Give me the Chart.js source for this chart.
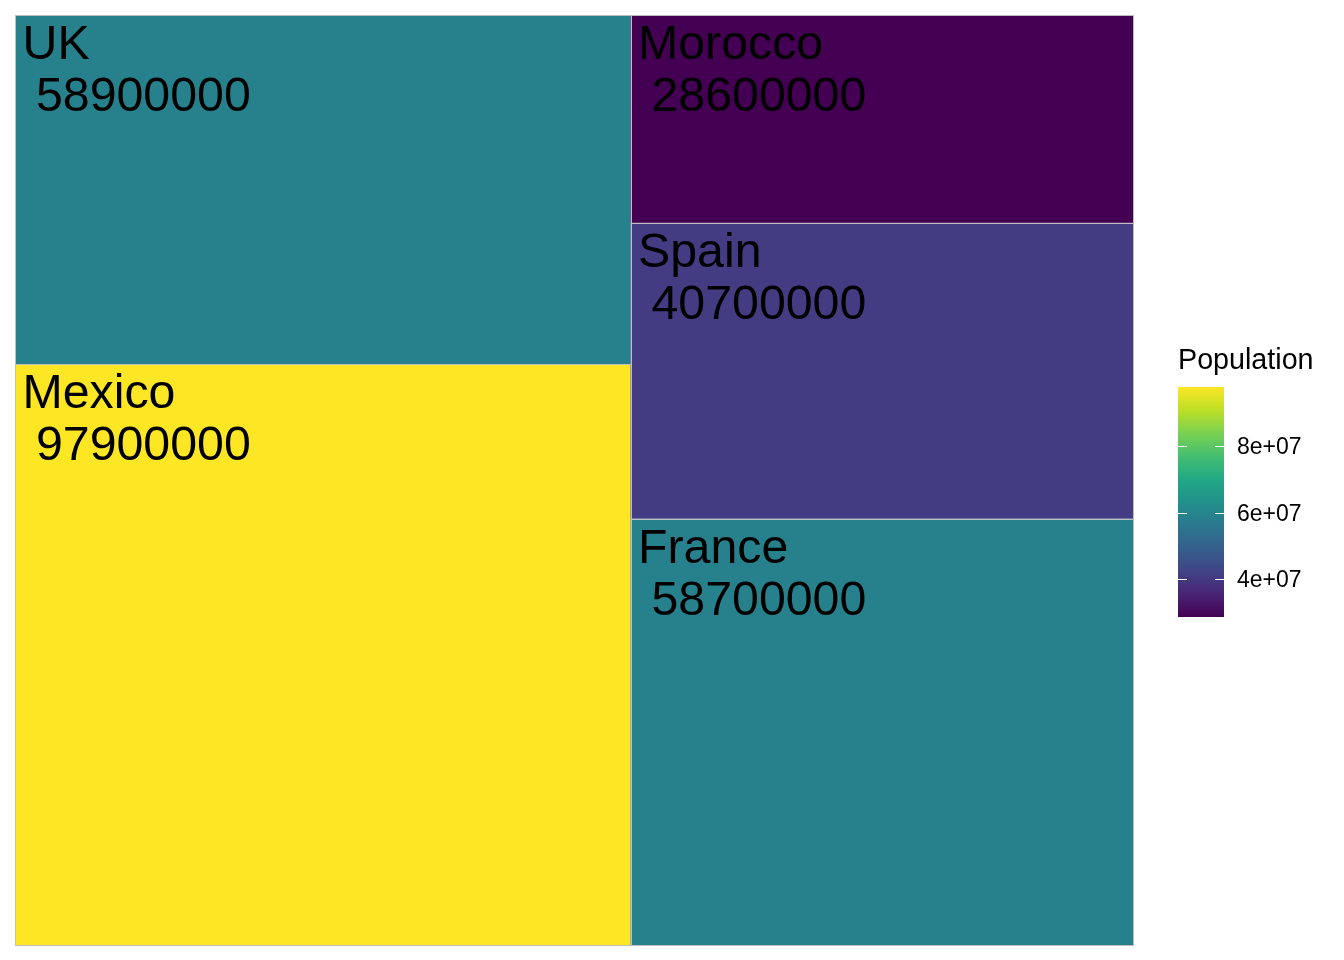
<!DOCTYPE html>
<html>
<head>
<meta charset="utf-8">
<script src="https://cdn.jsdelivr.net/npm/chart.js@4/dist/chart.umd.min.js"></script>
<style>
  html, body { margin: 0; padding: 0; background: #ffffff; }
  #wrap { width: 1344px; height: 960px; }
</style>
</head>
<body>
<div id="wrap"><canvas id="c" width="1344" height="960"></canvas></div>
<script>
// ---- data ----
const countries = ['UK', 'Mexico', 'Morocco', 'Spain', 'France'];
const population = [58900000, 97900000, 28600000, 40700000, 58700000];
const legendTicks = [40000000, 60000000, 80000000];
const legendTickLabels = ['4e+07', '6e+07', '8e+07'];
const legendTitle = 'Population';

// ---- viridis colour map ----
const viridisStops = ['#440154','#482475','#414487','#355F8D','#2A788E','#21918C','#22A884','#44BF70','#7AD151','#BDDF26','#FDE725'];
function hexToRgb(h) { return [parseInt(h.slice(1,3),16), parseInt(h.slice(3,5),16), parseInt(h.slice(5,7),16)]; }
function viridis(t) {
  t = Math.max(0, Math.min(1, t));
  const n = viridisStops.length - 1;
  const i = Math.min(n - 1, Math.floor(t * n));
  const f = t * n - i;
  const a = hexToRgb(viridisStops[i]), b = hexToRgb(viridisStops[i + 1]);
  const c = a.map((v, k) => Math.round(v + (b[k] - v) * f));
  return 'rgb(' + c.join(',') + ')';
}
const popMin = Math.min(...population), popMax = Math.max(...population);
function colorFor(v) { return viridis((v - popMin) / (popMax - popMin)); }

// ---- squarified layout (in units proportional to area), origin bottom-left ----
function worst(row, side) {
  const s = row.reduce((a, r) => a + r.area, 0);
  let w = 0;
  row.forEach(r => {
    const len = s / side;
    const other = r.area / len;
    w = Math.max(w, Math.max(len / other, other / len));
  });
  return w;
}
function squarify(W, H) {
  const total = population.reduce((a, b) => a + b, 0);
  const items = population.map((v, i) => ({ i, v, area: v / total * W * H }))
    .sort((a, b) => b.v - a.v);
  const out = [];
  let rect = { x: 0, y: 0, w: W, h: H };
  let k = 0;
  while (k < items.length) {
    const side = Math.min(rect.w, rect.h);
    let row = [items[k]];
    k++;
    while (k < items.length && worst(row.concat([items[k]]), side) <= worst(row, side)) {
      row.push(items[k]); k++;
    }
    const s = row.reduce((a, r) => a + r.area, 0);
    if (rect.w >= rect.h) {
      const thick = s / rect.h;
      let y = rect.y;
      row.forEach(r => { const hh = r.area / thick; out.push({ i: r.i, x: rect.x, y, w: thick, h: hh }); y += hh; });
      rect = { x: rect.x + thick, y: rect.y, w: rect.w - thick, h: rect.h };
    } else {
      const thick = s / rect.w;
      let x = rect.x;
      row.forEach(r => { const ww = r.area / thick; out.push({ i: r.i, x, y: rect.y, w: ww, h: thick }); x += ww; });
      rect = { x: rect.x, y: rect.y + thick, w: rect.w, h: rect.h - thick };
    }
  }
  return out.map(o => ({ i: o.i, x0: o.x / W, x1: (o.x + o.w) / W, y0: o.y / H, y1: (o.y + o.h) / H }));
}

const FONT = '"Liberation Sans", Arial, sans-serif';

const treemapPlugin = {
  id: 'treemap',
  afterDatasetsDraw(chart) {
    const ctx = chart.ctx, ca = chart.chartArea;
    const xs = chart.scales.x, ys = chart.scales.y;
    const tiles = squarify(ca.right - ca.left, ca.bottom - ca.top);
    ctx.save();
    tiles.forEach(t => {
      const l = xs.getPixelForValue(t.x0), r = xs.getPixelForValue(t.x1);
      const top = ys.getPixelForValue(t.y1), bot = ys.getPixelForValue(t.y0);
      ctx.fillStyle = colorFor(population[t.i]);
      ctx.fillRect(l, top, r - l, bot - top);
    });
    ctx.strokeStyle = '#BEBEBE';
    ctx.lineWidth = 1;
    tiles.forEach(t => {
      const l = xs.getPixelForValue(t.x0), r = xs.getPixelForValue(t.x1);
      const top = ys.getPixelForValue(t.y1), bot = ys.getPixelForValue(t.y0);
      ctx.strokeRect(Math.round(l) + 0.5, Math.round(top) + 0.5, Math.round(r) - Math.round(l), Math.round(bot) - Math.round(top));
    });
    ctx.fillStyle = '#000000';
    ctx.font = '48.3px ' + FONT;
    ctx.textBaseline = 'alphabetic';
    ctx.textAlign = 'left';
    tiles.forEach(t => {
      const l = xs.getPixelForValue(t.x0);
      const top = ys.getPixelForValue(t.y1);
      ctx.fillText(countries[t.i], l + 7.5, top + 44);
      ctx.fillText(' ' + String(population[t.i]), l + 7.5, top + 96);
    });
    ctx.restore();
  },
  afterDraw(chart) {
    const ctx = chart.ctx;
    const bx = 1178, bw = 46, bTop = 387, bBot = 617;
    const valToY = v => bBot - (v - popMin) / (popMax - popMin) * (bBot - bTop);
    ctx.save();
    ctx.fillStyle = '#000000';
    ctx.font = '28.7px ' + FONT;
    ctx.textBaseline = 'alphabetic';
    ctx.textAlign = 'left';
    ctx.fillText(legendTitle, bx, 369);
    const g = ctx.createLinearGradient(0, bBot, 0, bTop);
    for (let s = 0; s <= 40; s++) g.addColorStop(s / 40, viridis(s / 40));
    ctx.fillStyle = g;
    ctx.fillRect(bx, bTop, bw, bBot - bTop);
    ctx.strokeStyle = '#FFFFFF';
    ctx.lineWidth = 1;
    ctx.font = '23px ' + FONT;
    ctx.textBaseline = 'middle';
    legendTicks.forEach((v, k) => {
      const y = Math.round(valToY(v)) + 0.5;
      ctx.beginPath();
      ctx.moveTo(bx, y); ctx.lineTo(bx + 9, y);
      ctx.moveTo(bx + bw - 9, y); ctx.lineTo(bx + bw, y);
      ctx.stroke();
      ctx.fillStyle = '#000000';
      ctx.fillText(legendTickLabels[k], bx + 59, y + 1);
    });
    ctx.restore();
  }
};

new Chart(document.getElementById('c'), {
  type: 'scatter',
  data: { datasets: [{ data: [] }] },
  options: {
    responsive: false,
    animation: false,
    layout: { padding: { left: 15, top: 15, right: 211, bottom: 15 } },
    plugins: { legend: { display: false }, tooltip: { enabled: false } },
    scales: {
      x: { type: 'linear', min: 0, max: 1, display: false },
      y: { type: 'linear', min: 0, max: 1, display: false }
    }
  },
  plugins: [treemapPlugin]
});
</script>
</body>
</html>
